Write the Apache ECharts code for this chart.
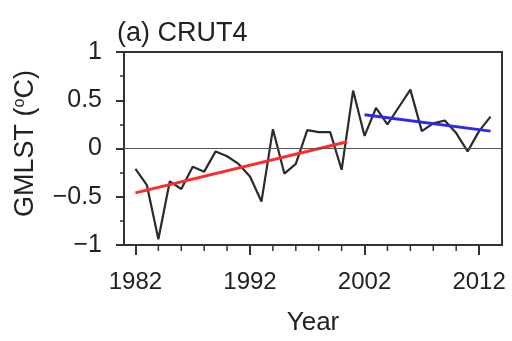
<!DOCTYPE html>
<html>
<head>
<meta charset="utf-8">
<script src="https://cdn.jsdelivr.net/npm/echarts@6/dist/echarts.min.js"></script>
<style>
  html, body { margin: 0; padding: 0; background: #fff; }
  #chart { width: 512px; height: 341px; }
</style>
</head>
<body>
<div id="chart"></div>
<script>
// yearly anomalies
const years = [1982, 1983, 1984, 1985, 1986, 1987, 1988, 1989, 1990, 1991,
  1992, 1993, 1994, 1995, 1996, 1997, 1998, 1999, 2000, 2001,
  2002, 2003, 2004, 2005, 2006, 2007, 2008, 2009, 2010, 2011, 2012, 2013]
const anomalies = [-0.21, -0.38, -0.94, -0.34, -0.42, -0.19, -0.24, -0.03, -0.08, -0.16,
  -0.29, -0.55, 0.20, -0.26, -0.16, 0.19, 0.17, 0.17, -0.22, 0.60,
  0.13, 0.42, 0.25, 0.43, 0.61, 0.18, 0.26, 0.29, 0.16, -0.03, 0.18, 0.33]

// trend lines (end points)
const earlyTrendYears = [1982, 2000.5]
const earlyTrendValues = [-0.46, 0.07]
const lateTrendYears = [2002, 2013]
const lateTrendValues = [0.35, 0.18]

// axis ticks
const xMajorTicks = [1982, 1992, 2002, 2012]
const xMinorTicks = [1984, 1986, 1988, 1990, 1994, 1996, 1998, 2000, 2004, 2006, 2008, 2010]

const pairs = (xs, ys) => xs.map((x, i) => [x, ys[i]])

const chart = echarts.init(document.getElementById('chart'))
const font = 'Liberation Sans, Arial, sans-serif'
const ink = '#333'
const yMin = -1

chart.setOption({
  animation: false,
  title: {
    text: '(a) CRUT4',
    left: 112,
    top: 15,
    textStyle: { fontFamily: font, fontSize: 27, fontWeight: 'normal', color: '#222' },
  },
  grid: {
    left: 124, right: 10, top: 52, bottom: 92,
    show: true, borderColor: ink, borderWidth: 2,
  },
  xAxis: {
    type: 'value',
    min: 1981, max: 2014,
    name: 'Year',
    nameLocation: 'middle',
    nameGap: 65,
    nameTextStyle: { fontFamily: font, fontSize: 26, color: '#222' },
    axisLine: { onZero: false, lineStyle: { color: ink, width: 2 } },
    axisTick: { customValues: xMajorTicks, length: 10, lineStyle: { color: ink, width: 2 } },
    axisLabel: {
      customValues: xMajorTicks, margin: 25, fontFamily: font, fontSize: 24, color: '#222',
      formatter: (v) => String(v),
    },
    splitLine: { show: false },
  },
  yAxis: {
    type: 'value',
    min: yMin, max: 1, interval: 0.5,
    name: 'GMLST ({sup|o}C)',
    nameLocation: 'middle',
    nameGap: 84,
    nameRotate: 90,
    nameTextStyle: {
      fontFamily: font, fontSize: 27, color: '#222',
      padding: [0, 0, 0, 10],
      rich: { sup: { fontFamily: font, fontSize: 16, verticalAlign: 'top', padding: [0, 0, 12, 0] } },
    },
    axisLine: { show: true, onZero: false, lineStyle: { color: ink, width: 2 } },
    axisTick: { show: true, length: 8, lineStyle: { color: ink, width: 2 } },
    minorTick: { show: true, splitNumber: 2, length: 4, lineStyle: { color: ink, width: 1.5 } },
    axisLabel: {
      margin: 22, fontFamily: font, fontSize: 25, color: '#222',
      formatter: (v) => String(v).replace('-', '\u2212'),
    },
    splitLine: { show: false },
  },
  series: [
    {
      type: 'line',
      data: pairs(years, anomalies),
      showSymbol: false,
      lineStyle: { color: '#2b2b2b', width: 2.2 },
      z: 3,
      markLine: {
        silent: true,
        symbol: 'none',
        label: { show: false },
        lineStyle: { color: '#555', width: 1, type: 'solid' },
        data: [{ yAxis: 0 }],
      },
    },
    {
      type: 'line',
      data: pairs(earlyTrendYears, earlyTrendValues),
      showSymbol: false,
      lineStyle: { color: '#ff2a2a', width: 3 },
      z: 4,
    },
    {
      type: 'line',
      data: pairs(lateTrendYears, lateTrendValues),
      showSymbol: false,
      lineStyle: { color: '#2a2aee', width: 3 },
      z: 4,
    },
    {
      // short ticks every two years below the x axis
      type: 'custom',
      clip: false,
      silent: true,
      encode: { x: 0, y: 1 },
      data: xMinorTicks.map((yr) => [yr, yMin]),
      renderItem: (params, api) => {
        const p = api.coord([api.value(0), api.value(1)])
        return {
          type: 'line',
          shape: { x1: p[0], y1: p[1], x2: p[0], y2: p[1] + 6 },
          style: { stroke: ink, lineWidth: 1.5 },
        }
      },
      z: 5,
    },
  ],
})
</script>
</body>
</html>
